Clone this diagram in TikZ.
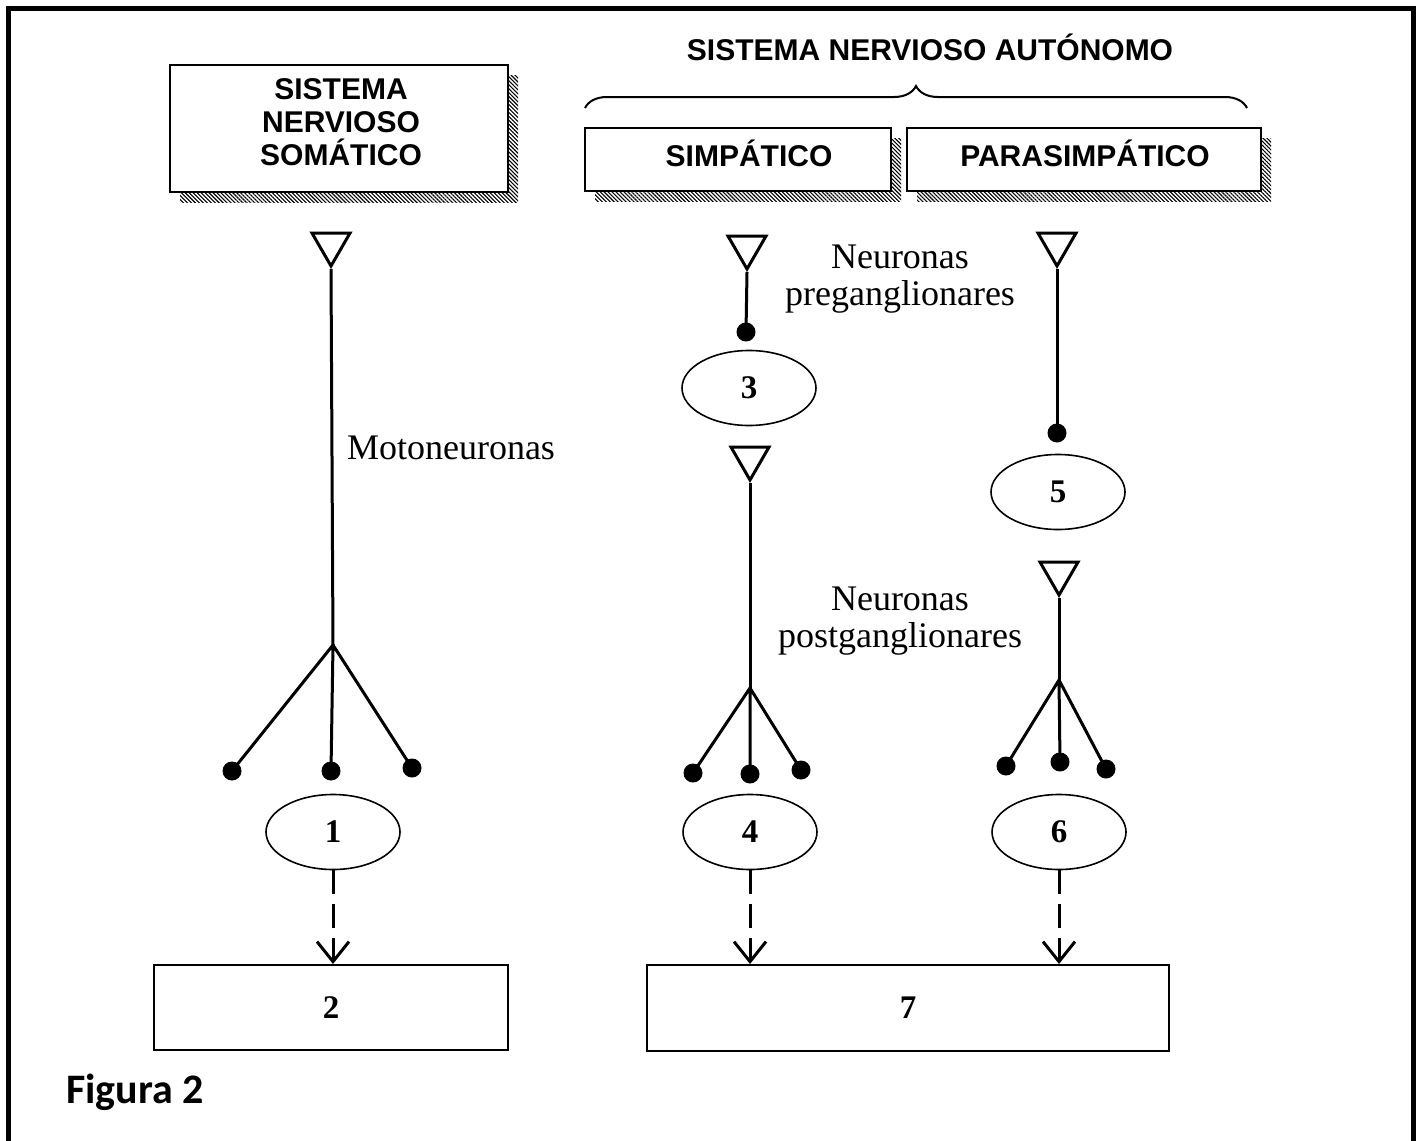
\documentclass[tikz,border=0pt]{standalone}
\usepackage{fontspec}
\setmainfont{Liberation Serif}
\newfontfamily\hsans{Liberation Sans}
\newfontfamily\calib{Carlito}
\usetikzlibrary{shapes.geometric,shadows,patterns.meta,decorations.pathreplacing,arrows.meta}
\begin{document}
\begin{tikzpicture}[x=1pt,y=-1pt,
  hatch/.style={general shadow={shadow xshift=10pt,shadow yshift=-10pt,
      pattern={Lines[angle=-45,distance=2.8pt,line width=1.1pt]}}},
  titlebox/.style={draw,line width=2pt,fill=white,hatch,inner sep=0pt},
  titletext/.style={font=\hsans\bfseries\fontsize{30}{33}\selectfont,align=center,inner sep=0pt},
  tgtbox/.style={draw,line width=2pt,inner sep=0pt,font=\bfseries\fontsize{33}{36}\selectfont},
  tri/.style={draw,regular polygon,regular polygon sides=3,shape border rotate=180,
      minimum size=44pt,inner sep=0pt,line width=3pt},
  dot/.style={circle,fill=black,minimum size=19pt,inner sep=0pt},
  ell/.style={draw,ellipse,line width=1.6pt,minimum width=134pt,minimum height=75pt,
      inner sep=0pt,font=\bfseries\fontsize{33}{36}\selectfont},
  nerve/.style={line width=3pt},
  lbl/.style={font=\fontsize{36}{37}\selectfont,align=center,inner sep=0pt},
  darrow/.style={line width=3pt,dash pattern=on 24pt off 10pt,
      -{Straight Barb[length=20pt,width=32pt,line width=3pt]}}
]
\useasboundingbox (0,0) rectangle (1418,1140);
\draw[line width=5pt] (8.5,1145) -- (8.5,8.5) -- (1413.5,8.5) -- (1413.5,1145);

% title boxes
\node[titlebox,minimum width=338pt,minimum height=127pt] (som) at (339,128.5) {};
\node[titletext] (somtxt) at (341,122) {SISTEMA\\ NERVIOSO\\ SOM\'ATICO};
\node[titlebox,minimum width=306pt,minimum height=63pt] (simp) at (738,159.5) {};
\node[titletext,anchor=base] (simptxt) at (749,166) {SIMP\'ATICO};
\node[titlebox,minimum width=354pt,minimum height=63pt] (para) at (1084,159.5) {};
\node[titletext,anchor=base] (paratxt) at (1085,166) {PARASIMP\'ATICO};
\node[titletext] (sna) at (930,47) {SISTEMA NERVIOSO AUT\'ONOMO};
\draw[line width=2pt,decorate,decoration={brace,amplitude=22pt,aspect=0.5}]
  (585,108) -- (1247,108);

% somatic neuron
\node[tri] (t1) at (331,244) {};
\coordinate (b1) at (333,645);
\node[dot] (d1a) at (232,771) {};
\node[dot] (d1b) at (331,771) {};
\node[dot] (d1c) at (412,768) {};
\draw[nerve] (t1.corner 1) -- (b1);
\draw[nerve] (b1) -- (d1a.center) (b1) -- (d1b.center) (b1) -- (d1c.center);
\node[lbl] (moto) at (451,448) {Motoneuronas};
\node[ell] (e1) at (333,832) {1};

% sympathetic
\node[tri] (t3) at (747,247) {};
\node[dot] (d3) at (746,332) {};
\draw[nerve] (t3.corner 1) -- (d3.center);
\node[ell] (e3) at (749,388) {3};
\node[tri] (t4) at (750,458) {};
\coordinate (b4) at (750,688);
\node[dot] (d4a) at (693,773) {};
\node[dot] (d4b) at (750,774) {};
\node[dot] (d4c) at (801,770) {};
\draw[nerve] (t4.corner 1) -- (b4);
\draw[nerve] (b4) -- (d4a.center) (b4) -- (d4b.center) (b4) -- (d4c.center);
\node[ell] (e4) at (750,832) {4};

% parasympathetic
\node[tri] (t5) at (1057,244) {};
\node[dot] (d5) at (1057,433) {};
\draw[nerve] (t5.corner 1) -- (d5.center);
\node[ell] (e5) at (1058,492) {5};
\node[tri] (t6) at (1059,573) {};
\coordinate (b6) at (1059,680);
\node[dot] (d6a) at (1006,766) {};
\node[dot] (d6b) at (1060,762) {};
\node[dot] (d6c) at (1106,769) {};
\draw[nerve] (t6.corner 1) -- (b6);
\draw[nerve] (b6) -- (d6a.center) (b6) -- (d6b.center) (b6) -- (d6c.center);
\node[ell] (e6) at (1059,832) {6};

% labels
\node[lbl] (pre) at (900,279) {Neuronas\\ preganglionares};
\node[lbl] (post) at (900,621) {Neuronas\\ postganglionares};

% targets
\node[tgtbox,minimum width=354pt,minimum height=85pt] (b2) at (331,1007.5) {2};
\node[tgtbox,minimum width=522pt,minimum height=86pt] (b7) at (908,1008) {7};

\draw[darrow] (e1.south) -- (e1.south |- b2.north);
\draw[darrow] (e4.south) -- (e4.south |- b7.north);
\draw[darrow] (e6.south) -- (e6.south |- b7.north);

\node[font=\calib\bfseries\fontsize{42}{46}\selectfont,inner sep=0pt,anchor=west] (fig) at (66,1092) {Figura 2};
\end{tikzpicture}
\end{document}
